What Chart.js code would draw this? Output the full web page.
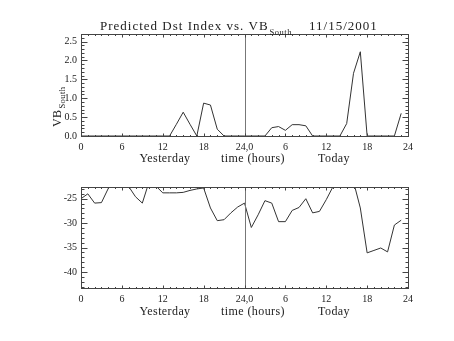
<!DOCTYPE html>
<html>
<head>
<meta charset="utf-8">
<script src="https://cdn.jsdelivr.net/npm/chart.js@4.4.1/dist/chart.umd.min.js"></script>
<style>
  body { margin: 0; background: #fff; }
  #wrap { position: relative; width: 454px; height: 341px; }
  canvas { position: absolute; left: 0; }
</style>
</head>
<body>
<div id="wrap">
  <canvas id="vbChart" width="454" height="170" style="top:0"></canvas>
  <canvas id="dstChart" width="454" height="171" style="top:170px"></canvas>
</div>
<script>
// hours since start of yesterday (0-23 yesterday, 24-47 today)
const hours = [0,1,2,3,4,5,6,7,8,9,10,11,12,13,14,15,16,17,18,19,20,21,22,23,
  24,25,26,27,28,29,30,31,32,33,34,35,36,37,38,39,40,41,42,43,44,45,46,47];

const vbSouth = [0,0,0,0,0,0,0,0,0,0,0,0,0,0,0.31,0.63,0.31,0,0.87,0.82,0.18,0,0,0,
  0,0,0,0,0.22,0.25,0.15,0.30,0.30,0.27,0,0,0,0,0,0.33,1.66,2.23,0,0,0,0,0,0.6];

const dst = [-25.0,-24.0,-25.9,-25.8,-22.9,-21.5,-21.0,-22.5,-24.6,-25.9,-21.5,-22.4,
  -23.8,-23.8,-23.8,-23.7,-23.3,-23.0,-22.8,-26.9,-29.5,-29.3,-27.9,-26.7,
  -25.9,-30.9,-28.3,-25.4,-25.9,-29.7,-29.7,-27.4,-26.8,-25.0,-27.9,-27.6,-25.2,-22.5,
  -21.0,-20.8,-21.5,-26.9,-36.1,-35.6,-35.1,-35.9,-30.4,-29.4];

const xTicks = [0,6,12,18,24,30,36,42,48];
const xTickLabels = ['0','6','12','18','24,0','6','12','18','24'];
const vbTicks = [0,0.5,1.0,1.5,2.0,2.5];
const dstTicks = [-40,-35,-30,-25];
const dayBreak = 24;

const serif = "'Liberation Serif', 'Times New Roman', serif";
Chart.defaults.font.family = serif;
Chart.defaults.color = '#222';

// IDL-style box: inward ticks on all four sides, divider at midnight, axis names
const idlFrame = {
  id: 'idlFrame',
  afterDatasetsDraw(chart, args, opts) {
    const ctx = chart.ctx;
    const a = chart.chartArea;
    const x = chart.scales.x, y = chart.scales.y;
    ctx.save();
    ctx.lineWidth = 1;
    ctx.strokeStyle = '#777';
    const xd = Math.round(x.getPixelForValue(dayBreak)) + 0.5;
    ctx.beginPath();
    ctx.moveTo(xd, a.top); ctx.lineTo(xd, a.bottom);
    ctx.stroke();

    ctx.strokeStyle = '#444';
    const L = Math.round(a.left) + 0.5, R = Math.round(a.right) + 0.5;
    const T = Math.round(a.top) + 0.5, B = Math.round(a.bottom) + 0.5;
    ctx.strokeRect(L, T, R - L, B - T);

    ctx.beginPath();
    for (let h = 0; h <= 48; h++) {
      const px = Math.round(x.getPixelForValue(h)) + 0.5;
      const len = xTicks.includes(h) ? 3 : 1.5;
      ctx.moveTo(px, B); ctx.lineTo(px, B - len);
      ctx.moveTo(px, T); ctx.lineTo(px, T + len);
    }
    const step = opts.minor;
    for (let v = Math.ceil(y.min / step) * step; v <= y.max + 1e-9; v += step) {
      const py = Math.round(y.getPixelForValue(v)) + 0.5;
      const major = opts.majors.some(m => Math.abs(m - v) < 1e-6);
      const len = major ? 6 : 3;
      ctx.moveTo(L, py); ctx.lineTo(L + len, py);
      ctx.moveTo(R, py); ctx.lineTo(R - len, py);
    }
    ctx.stroke();

    // x axis names
    ctx.fillStyle = '#222';
    ctx.font = '12px ' + serif;
    ctx.letterSpacing = '0.4px';
    ctx.textAlign = 'center';
    ctx.textBaseline = 'alphabetic';
    const by = a.bottom + opts.nameOffset;
    ctx.fillText('Yesterday', 165, by);
    ctx.fillText('time (hours)', 253, by);
    ctx.fillText('Today', 334, by);

    // y axis name (rotated)
    ctx.translate(opts.yNameX, opts.yNameStart);
    ctx.rotate(-Math.PI / 2);
    ctx.textAlign = 'left';
    if (opts.sub) {
      ctx.fillText(opts.yName, 0, 0);
      const w = ctx.measureText(opts.yName).width;
      ctx.font = '8.5px ' + serif;
      ctx.fillText(opts.sub, w + 1, 3.5);
    } else {
      ctx.textAlign = 'center';
      ctx.fillText(opts.yName, 0, 0);
    }
    ctx.restore();

    if (opts.title) {
      ctx.save();
      ctx.fillStyle = '#222';
      ctx.font = '13px ' + serif;
      ctx.letterSpacing = '1px';
      ctx.textAlign = 'left';
      ctx.fillText('Predicted Dst Index vs. VB', 100, 30);
      const w = ctx.measureText('Predicted Dst Index vs. VB').width;
      ctx.font = '8.5px ' + serif;
      ctx.letterSpacing = '0.5px';
      ctx.fillText('South', 100 + w + 1, 35);
      ctx.font = '13px ' + serif;
      ctx.letterSpacing = '1px';
      ctx.fillText('11/15/2001', 309, 30);
      ctx.restore();
    }
  }
};

function makeChart(id, values, yMin, yMax, yTicks, digits, frameOpts, areaTop, areaHeight) {
  const canvas = document.getElementById(id);
  const H = canvas.height;
  return new Chart(canvas, {
    type: 'line',
    data: {
      datasets: [{
        data: hours.map((h, i) => ({ x: h, y: values[i] })),
        borderColor: '#333',
        borderWidth: 1,
        pointRadius: 0,
        tension: 0,
        fill: false,
        clip: 0
      }]
    },
    options: {
      responsive: false,
      animation: false,
      events: [],
      layout: { padding: { left: 0, top: areaTop, right: 454 - 408, bottom: 0 } },
      plugins: {
        legend: { display: false },
        tooltip: { enabled: false },
        idlFrame: frameOpts
      },
      scales: {
        x: {
          type: 'linear', min: 0, max: 48,
          afterBuildTicks: s => { s.ticks = xTicks.map(v => ({ value: v })); },
          afterFit: s => { s.height = H - areaTop - areaHeight; },
          grid: { display: false, drawTicks: false },
          border: { display: false },
          ticks: {
            autoSkip: false, maxRotation: 0, padding: 5,
            font: { size: 10 },
            callback: (v, i) => xTickLabels[i]
          }
        },
        y: {
          min: yMin, max: yMax,
          afterBuildTicks: s => { s.ticks = yTicks.map(v => ({ value: v })); },
          afterFit: s => { s.width = 81; },
          grid: { display: false, drawTicks: false },
          border: { display: false },
          ticks: {
            padding: 4,
            font: { size: 10 },
            callback: v => v.toFixed(digits)
          }
        }
      }
    },
    plugins: [idlFrame]
  });
}

makeChart('vbChart', vbSouth, 0, 2.7, vbTicks, 1,
  { minor: 0.1, majors: vbTicks, nameOffset: 26, yName: 'VB', sub: 'South', yNameX: 61, yNameStart: 127, title: true },
  34, 102);

makeChart('dstChart', dst, -43.3, -22.6, dstTicks, 0,
  { minor: 1, majors: dstTicks, nameOffset: 27, yName: 'Dst (nT)', yNameX: 60, yNameStart: 240 },
  17, 101);
</script>
</body>
</html>
